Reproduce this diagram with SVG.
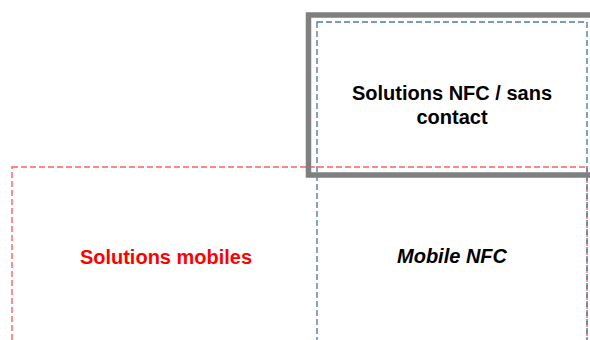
<svg xmlns="http://www.w3.org/2000/svg" width="590" height="340" viewBox="0 0 590 340">
<style>
.lbl{font-family:"Liberation Sans",Arial,sans-serif;font-size:20px;font-weight:bold;text-anchor:middle}
.red{fill:none;stroke:#ff5f5f;stroke-width:1.4;stroke-dasharray:6 3}
.blue{fill:none;stroke:#4f7ea0;stroke-width:1.4;stroke-dasharray:6 3}
.frame{fill:none;stroke:#7f7f7f;stroke-width:5.5}
</style>
<rect width="590" height="340" fill="#fff"/>
<g id="mobiles">
<rect class="red" x="12" y="167" width="575" height="200"/>
<text class="lbl" x="166" y="264" fill="#ff0000">Solutions mobiles</text>
</g>
<g id="mobile-nfc">
<rect class="blue" x="317" y="22" width="270" height="345"/>
<text class="lbl" x="452" y="263" fill="#000" font-style="italic">Mobile NFC</text>
</g>
<g id="nfc">
<rect class="frame" x="308.5" y="15" width="300" height="160"/>
<text class="lbl" x="452" y="100" fill="#000">Solutions NFC / sans</text>
<text class="lbl" x="452" y="124" fill="#000">contact</text>
</g>
<g id="connectors"/>
</svg>
